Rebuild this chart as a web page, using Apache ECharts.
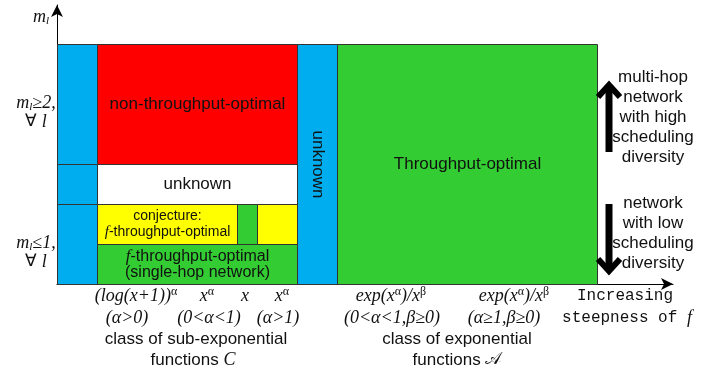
<!DOCTYPE html>
<html><head><meta charset="utf-8">
<script src="https://cdn.jsdelivr.net/npm/echarts@6/dist/echarts.min.js"></script>
<style>html,body{margin:0;padding:0;background:#fff}#c{width:713px;height:377px}</style>
</head><body><div id="c"></div>
<script>
// Regions of the (steepness of f) x (m_l) plane, in axis units
const regionNames  = ['blueTop','blueMid','blueLow','nonThroughput','unknownWhite','conjectureLeft','conjectureGap','conjectureRight','singleHop','unknownBlue','throughputOptimal'];
const regionX0 = [0, 0, 0, 2, 2, 2, 9, 10, 2, 12, 14];
const regionX1 = [2, 2, 2, 12, 12, 9, 10, 12, 12, 14, 27];
const regionY0 = [3, 2, 0, 3, 2, 1, 1, 1, 0, 0, 0];
const regionY1 = [6, 3, 2, 6, 3, 2, 2, 2, 1, 6, 6];
const regionLabels = ['', '', '', 'non-throughput-optimal', 'unknown',
  '{c|conjecture:}\n{cf|f}{c|-throughput-optimal}', '', '',
  '{f|f}{s|-throughput-optimal}\n{s|(single-hop network)}', 'unknown', 'Throughput-optimal'];
const regionRotated = [false, false, false, false, false, false, false, false, false, true, false];
const xExtent = [0, 30.8];
const yExtent = [0, 6.975];

// styles
const regionColors = ['#00AEEF','#00AEEF','#00AEEF','#FF0000','#FFFFFF','#FFFF00','#33CC33','#FFFF00','#33CC33','#00AEEF','#33CC33'];
const SANS = 'Liberation Sans';
const SERIF = 'Liberation Serif';
const MONO = 'Liberation Mono';
const rich = {
  s:   {fontFamily: SANS, fontSize: 16, lineHeight: 16, color: '#111'},
  c:   {fontFamily: SANS, fontSize: 14, lineHeight: 16, color: '#111'},
  f:   {fontFamily: SERIF, fontStyle: 'italic', fontSize: 17, lineHeight: 16, color: '#111'},
  cf:  {fontFamily: SERIF, fontStyle: 'italic', fontSize: 15, lineHeight: 16, color: '#111'},
  it:  {fontFamily: SERIF, fontStyle: 'italic', fontSize: 18, lineHeight: 20, color: '#111'},
  m:   {fontFamily: SERIF, fontStyle: 'italic', fontSize: 18, lineHeight: 20, color: '#111'},
  up:  {fontFamily: SERIF, fontSize: 17, lineHeight: 20, color: '#333'},
  sup: {fontFamily: SERIF, fontSize: 12, lineHeight: 20, verticalAlign: 'top', color: '#111'},
  sub: {fontFamily: SERIF, fontStyle: 'italic', fontSize: 11, lineHeight: 20, verticalAlign: 'bottom', color: '#111', padding: [8,0,0,0]},
  mono:{fontFamily: MONO, fontSize: 16, lineHeight: 20, color: '#111'},
  cal: {fontFamily: 'DejaVu Sans', fontSize: 17, lineHeight: 20, color: '#111'}
};

const chart = echarts.init(document.getElementById('c'), null, {renderer: 'canvas'});

function txt(x, y, text, extra) {
  return Object.assign({
    type: 'text', x: x, y: y, z: 10,
    style: {text: text, rich: rich, align: 'center', verticalAlign: 'middle',
            textAlign: 'center', textVerticalAlign: 'middle',
            fontFamily: SANS, fontSize: 17, lineHeight: 20, fill: '#111'}
  }, extra || {});
}

const annotations = [
  txt(41, 17, '{m|m}{sub|l}'),
  txt(36, 103, '{m|m}{sub|l}{m|≥2,}'),
  txt(36, 122, '{up|∀}{m| l}'),
  txt(36, 243, '{m|m}{sub|l}{m|≤1,}'),
  txt(36, 262, '{up|∀}{m| l}'),
  // bottom: sub-exponential
  txt(136, 296, '{it|(log(x+1))}{sup|α}'),
  txt(207, 296, '{it|x}{sup|α}'),
  txt(245, 296, '{it|x}'),
  txt(282, 296, '{it|x}{sup|α}'),
  txt(127, 318, '{it|(α>0)}'),
  txt(209, 318, '{it|(0<α<1)}'),
  txt(278, 318, '{it|(α>1)}'),
  txt(196, 339, 'class of sub-exponential'),
  txt(193, 360, 'functions {it|C}'),
  // bottom: exponential
  txt(391, 296, '{it|exp(x}{sup|α}{it|)/x}{sup|β}'),
  txt(514, 296, '{it|exp(x}{sup|α}{it|)/x}{sup|β}'),
  txt(392, 318, '{it|(0<α<1,β≥0)}'),
  txt(504, 318, '{it|(α≥1,β≥0)}'),
  txt(457, 339, 'class of exponential'),
  txt(457, 360, 'functions {cal|𝒜}'),
  txt(625, 296, '{mono|Increasing}'),
  txt(627, 318, '{mono|steepness of }{it|f}'),
  // right side
  txt(653, 117, 'multi-hop\nnetwork\nwith high\nscheduling\ndiversity'),
  txt(653, 233, 'network\nwith low\nscheduling\ndiversity')
];

const arrows = [
  {type: 'polyline', z: 5, shape: {points: [[609,152],[609,86]]}, style: {stroke: '#000', lineWidth: 7, fill: null}},
  {type: 'polyline', z: 5, shape: {points: [[598,97],[609,85],[620,97]]}, style: {stroke: '#000', lineWidth: 6, fill: null, lineJoin: 'miter', lineCap: 'butt'}},
  {type: 'polyline', z: 5, shape: {points: [[609,204],[609,270]]}, style: {stroke: '#000', lineWidth: 7, fill: null}},
  {type: 'polyline', z: 5, shape: {points: [[598,259],[609,271],[620,259]]}, style: {stroke: '#000', lineWidth: 6, fill: null, lineJoin: 'miter', lineCap: 'butt'}}
];

const data = regionNames.map((n, i) => [regionX0[i], regionX1[i], regionY0[i], regionY1[i], i]);

chart.setOption({
  animation: false,
  backgroundColor: '#fff',
  grid: {left: 57, bottom: 93, width: 616, height: 279},
  xAxis: {type: 'value', min: xExtent[0], max: xExtent[1], splitLine: {show: false},
          axisTick: {show: false}, axisLabel: {show: false},
          axisLine: {show: true, lineStyle: {color: '#000', width: 1}, symbol: ['none', 'arrow'], symbolSize: [9, 12]}},
  yAxis: {type: 'value', min: yExtent[0], max: yExtent[1], splitLine: {show: false},
          axisTick: {show: false}, axisLabel: {show: false},
          axisLine: {show: true, lineStyle: {color: '#000', width: 1}, symbol: ['none', 'arrow'], symbolSize: [9, 12]}},
  series: [{
    type: 'custom',
    data: data,
    z: 1,
    renderItem: function (params, api) {
      const i = api.value(4);
      const p0 = api.coord([api.value(0), api.value(3)]);
      const p1 = api.coord([api.value(1), api.value(2)]);
      const x = Math.round(p0[0]) + 0.5, y = Math.round(p0[1]) + 0.5;
      const w = Math.round(p1[0]) - Math.round(p0[0]);
      const h = Math.round(p1[1]) - Math.round(p0[1]);
      const children = [{type: 'rect', shape: {x: x, y: y, width: w, height: h},
        style: {fill: regionColors[i], stroke: '#333', lineWidth: 1}}];
      if (regionLabels[i]) {
        children.push({type: 'text', x: x + w / 2, y: y + h / 2,
          rotation: regionRotated[i] ? -Math.PI / 2 : 0,
          style: {text: regionLabels[i], rich: rich, align: 'center', verticalAlign: 'middle',
                  textAlign: 'center', textVerticalAlign: 'middle',
                  fontFamily: SANS, fontSize: 17, lineHeight: 16, fill: '#111'}});
      }
      return {type: 'group', children: children};
    }
  }],
  graphic: arrows.concat(annotations)
});
</script></body></html>
